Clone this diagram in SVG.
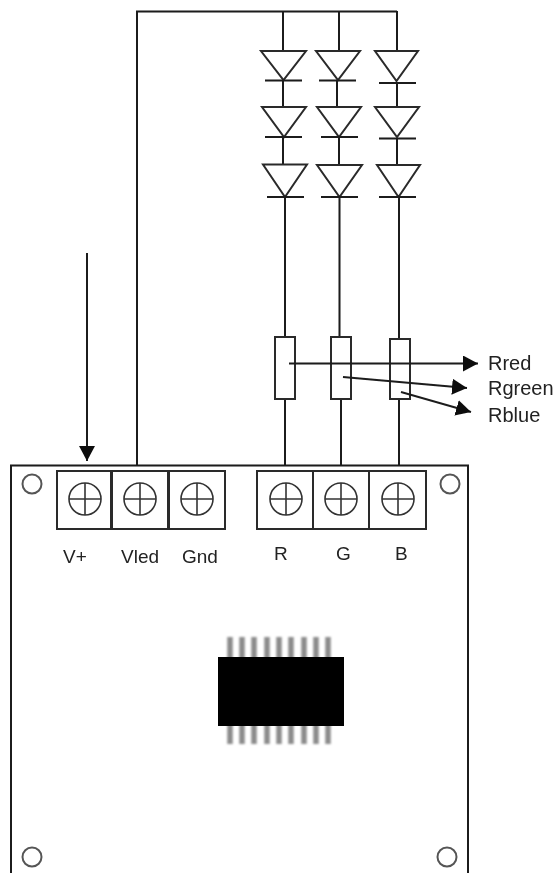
<svg xmlns="http://www.w3.org/2000/svg" width="560" height="873" viewBox="0 0 560 873">
<style>
.w{fill:none;stroke:#1c1c1c;stroke-width:2}
.d{fill:#fff;stroke:#2a2a2a;stroke-width:2}
.h{fill:none;stroke:#333;stroke-width:1.6}
.hole{fill:none;stroke:#555;stroke-width:2}
.pin{stroke:#8a8a8a;stroke-width:5.5}
text{font-family:"Liberation Sans",Arial,sans-serif;font-size:20px;fill:#222}
.s{font-size:19px}
</style>
<defs>
<marker id="ah" markerUnits="userSpaceOnUse" markerWidth="17" markerHeight="16" refX="15" refY="8" orient="auto"><path d="M0 0L15 8L0 16Z" fill="#111"/></marker>
<filter id="soft" x="-5%" y="-5%" width="110%" height="110%"><feGaussianBlur stdDeviation="0.45"/></filter>
<filter id="softer" x="-5%" y="-5%" width="110%" height="110%"><feGaussianBlur stdDeviation="0.8"/></filter>
<g id="screw"><circle r="16" class="h" stroke-width="2"/><path d="M-16 0H16M0-16V16" class="h"/></g>
</defs>
<rect width="560" height="873" fill="#fff"/>
<g filter="url(#soft)">
<g id="connectors">
<path class="w" d="M87 253V448"/>
<path d="M87 445V461" stroke="none" fill="none"/>
<path class="w" d="M137 465V11.500H397"/>
<path class="w" d="M283 11V51M283 80V107M283 137V164M285 197V337M285 399V465"/>
<path class="w" d="M339 11V51M337 80V107M339 137V164M339.500 197V337M341 399V465"/>
<path class="w" d="M397 11V51M397 83V107M397 138V165M399 197V339M399 399V465"/>
</g>
<g id="led-r1"><path class="d" d="M261 51H306L283.500 80Z"/><path class="w" d="M265 80.500H302"/></g>
<g id="led-r2"><path class="d" d="M262 107H306L284 137Z"/><path class="w" d="M265 137H302"/></g>
<g id="led-r3"><path class="d" d="M263 164.500H307L285 197Z"/><path class="w" d="M267 197H304"/></g>
<g id="led-g1"><path class="d" d="M316 51H360L338 80Z"/><path class="w" d="M319 80.500H356"/></g>
<g id="led-g2"><path class="d" d="M317 107H361L339 137Z"/><path class="w" d="M321 137H358"/></g>
<g id="led-g3"><path class="d" d="M317 165H362L339.500 197Z"/><path class="w" d="M321 197H358"/></g>
<g id="led-b1"><path class="d" d="M375 51H418L396.500 81Z"/><path class="w" d="M379 83H416"/></g>
<g id="led-b2"><path class="d" d="M375 107H419L397 137Z"/><path class="w" d="M379 138.500H416"/></g>
<g id="led-b3"><path class="d" d="M377 165H420L398.500 197Z"/><path class="w" d="M379 197H416"/></g>
<g id="res-r"><rect class="d" x="275" y="337" width="20" height="62"/></g>
<g id="res-g"><rect class="d" x="331" y="337" width="20" height="62"/></g>
<g id="res-b"><rect class="d" x="390" y="339" width="20" height="60"/></g>
<g id="arrows">
<path class="w" d="M289 363.500H478" marker-end="url(#ah)"/>
<path class="w" d="M343 377L467 388" marker-end="url(#ah)"/>
<path class="w" d="M401 392L471 412" marker-end="url(#ah)"/>
<path class="w" d="M87 445V461" marker-end="url(#ah)"/>
</g>
<g id="labels">
<text x="488" y="370">Rred</text>
<text x="488" y="395">Rgreen</text>
<text x="488" y="422">Rblue</text>
</g>
<g id="board">
<path class="w" d="M11 873V465.500H468V873"/>
<circle class="hole" cx="32" cy="484" r="9.500"/>
<circle class="hole" cx="450" cy="484" r="9.500"/>
<circle class="hole" cx="32" cy="857" r="9.500"/>
<circle class="hole" cx="447" cy="857" r="9.500"/>
</g>
<g id="term-vplus"><rect class="d" x="57" y="471" width="54" height="58"/><use href="#screw" x="85" y="499"/><text class="s" x="63" y="563">V+</text></g>
<g id="term-vled"><rect class="d" x="112" y="471" width="56" height="58"/><use href="#screw" x="140" y="499"/><text class="s" x="121" y="563">Vled</text></g>
<g id="term-gnd"><rect class="d" x="169" y="471" width="56" height="58"/><use href="#screw" x="197" y="499"/><text class="s" x="182" y="563">Gnd</text></g>
<g id="term-r"><rect class="d" x="257" y="471" width="56" height="58"/><use href="#screw" x="286" y="499"/><text class="s" x="274" y="560">R</text></g>
<g id="term-g"><rect class="d" x="313" y="471" width="56" height="58"/><use href="#screw" x="341" y="499"/><text class="s" x="336" y="560">G</text></g>
<g id="term-b"><rect class="d" x="369" y="471" width="57" height="58"/><use href="#screw" x="398" y="499"/><text class="s" x="395" y="560">B</text></g>
</g>
<g id="chip">
<g filter="url(#softer)"><path class="pin" d="M230 637V744M242 637V744M254 637V744M267 637V744M279 637V744M291 637V744M304 637V744M316 637V744M328 637V744"/></g>
<rect x="218" y="657" width="126" height="69" fill="#000"/>
</g>
</svg>
